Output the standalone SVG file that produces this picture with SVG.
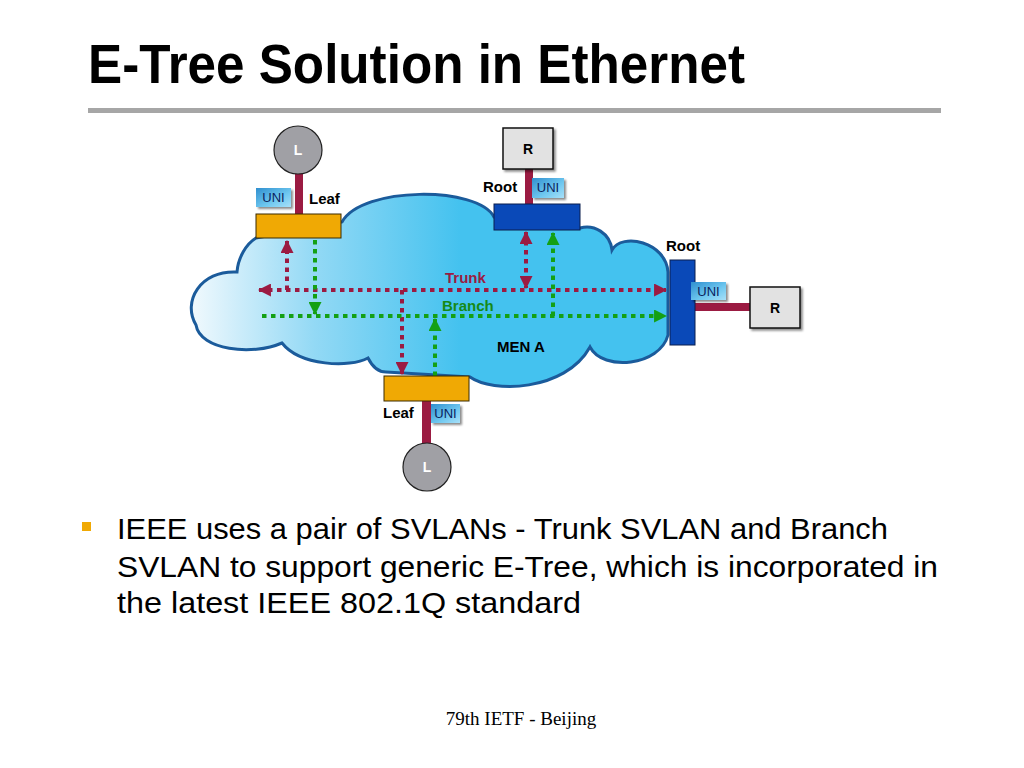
<svg xmlns="http://www.w3.org/2000/svg" width="1024" height="768" viewBox="0 0 1024 768">
<defs>
<linearGradient id="cloudGrad" x1="195" y1="0" x2="460" y2="0" gradientUnits="userSpaceOnUse">
<stop offset="0" stop-color="#eef8fd"/>
<stop offset="0.45" stop-color="#93d9f5"/>
<stop offset="1" stop-color="#44c2ef"/>
</linearGradient>
<linearGradient id="uniGrad" x1="0" y1="0" x2="1" y2="1">
<stop offset="0" stop-color="#2f8fcf"/>
<stop offset="0.6" stop-color="#6fc8f0"/>
<stop offset="1" stop-color="#a8e0f8"/>
</linearGradient>
<filter id="shadow" x="-20%" y="-20%" width="150%" height="160%">
<feDropShadow dx="2" dy="2" stdDeviation="1.2" flood-color="#000" flood-opacity="0.45"/>
</filter>
<marker id="arrT" viewBox="0 0 12 12" refX="11" refY="6" markerWidth="13" markerHeight="13" markerUnits="userSpaceOnUse" orient="auto-start-reverse">
<path d="M0,0 L12,6 L0,12 Z" fill="#9b1b42"/>
</marker>
<marker id="arrB" viewBox="0 0 12 12" refX="11" refY="6" markerWidth="13" markerHeight="13" markerUnits="userSpaceOnUse" orient="auto-start-reverse">
<path d="M0,0 L12,6 L0,12 Z" fill="#14a014"/>
</marker>
</defs>
<style>
.title{font-family:"Liberation Sans",Arial,sans-serif;font-weight:bold;font-size:56px;fill:#000}
.lbl{font-family:"Liberation Sans",Arial,sans-serif;font-weight:bold;font-size:15px;fill:#000}
.uni{font-family:"Liberation Sans",Arial,sans-serif;font-size:13px;fill:#0b1e5c}
.uniBox{fill:url(#uniGrad);filter:url(#shadow)}
.stem{fill:#9b1b42}
.leafBox{fill:#f0a904;stroke:#3a2a00;stroke-width:1}
.rootBox{fill:#0a49b8;stroke:#0a1f4f;stroke-width:1}
.rBox{fill:#e2e2e2;stroke:#111;stroke-width:1.5;filter:url(#shadow)}
.circ{fill:#a0a0a5;stroke:#222;stroke-width:1.2}
.cl{font-family:"Liberation Sans",Arial,sans-serif;font-weight:bold;font-size:14px;fill:#fff}
.rl{font-family:"Liberation Sans",Arial,sans-serif;font-weight:bold;font-size:14px;fill:#000}
.trunk{stroke:#9b1b42;stroke-width:4;stroke-dasharray:4.5 4.5;fill:none}
.branch{stroke:#14a014;stroke-width:4;stroke-dasharray:4.5 4.5;fill:none}
.body{font-family:"Liberation Sans",Arial,sans-serif;font-size:29px;fill:#000}
</style>
<rect width="1024" height="768" fill="#fff"/>
<text class="title" x="88" y="83" textLength="657" lengthAdjust="spacingAndGlyphs">E-Tree Solution in Ethernet</text>
<rect x="88" y="108" width="853" height="5" fill="#a6a6a6"/>
<g id="cloud">
<path d="M237,272 C200,270 182,302 196,325 C200,350 252,356 282,343 C300,366 350,368 368,358 C373,368 380,372 386,372 L470,377 C492,393 565,392 590,347 C603,372 660,366 668,335 L668,272 C666,242 622,232 612,250 C610,233 594,224 580,228 L494,217 C478,186 362,186 342,222 L256,238 C246,244 238,258 237,272 Z" fill="url(#cloudGrad)" stroke="#1b5b9b" stroke-width="3"/>
<text class="lbl" x="497" y="352" font-size="13">MEN A</text>
</g>
<g id="connectors">
<line class="trunk" x1="259" y1="290" x2="666" y2="290" marker-start="url(#arrT)" marker-end="url(#arrT)"/>
<line class="trunk" x1="287" y1="290" x2="287" y2="241" marker-end="url(#arrT)"/>
<line class="trunk" x1="402" y1="290" x2="402" y2="374" marker-end="url(#arrT)"/>
<line class="trunk" x1="526" y1="232" x2="526" y2="288" marker-start="url(#arrT)" marker-end="url(#arrT)"/>
<line class="branch" x1="262" y1="316" x2="666" y2="316" marker-end="url(#arrB)"/>
<line class="branch" x1="315" y1="240" x2="315" y2="314" marker-end="url(#arrB)"/>
<line class="branch" x1="435" y1="376" x2="435" y2="319" marker-end="url(#arrB)"/>
<line class="branch" x1="553" y1="316" x2="553" y2="233" marker-end="url(#arrB)"/>
<text x="445" y="283" font-family="Liberation Sans, Arial, sans-serif" font-weight="bold" font-size="15" fill="#9b1b42">Trunk</text>
<text x="442" y="311" font-family="Liberation Sans, Arial, sans-serif" font-weight="bold" font-size="15" fill="#168a16">Branch</text>
</g>
<g id="leaf-top">
<rect class="stem" x="295" y="170" width="8" height="44"/>
<circle class="circ" cx="298" cy="150" r="24"/>
<text class="cl" x="298" y="155" text-anchor="middle">L</text>
<rect class="leafBox" x="256" y="214" width="85" height="24"/>
<rect class="uniBox" x="256" y="188" width="35" height="19"/>
<text class="uni" x="273.5" y="202" text-anchor="middle">UNI</text>
<text class="lbl" x="309" y="204">Leaf</text>
</g>
<g id="root-top">
<rect class="stem" x="525" y="168" width="8" height="37"/>
<rect class="rBox" x="503" y="128" width="50" height="41"/>
<text class="rl" x="528" y="154" text-anchor="middle">R</text>
<rect class="rootBox" x="494" y="204" width="86" height="26"/>
<rect class="uniBox" x="532" y="178" width="32" height="20"/>
<text class="uni" x="548" y="192" text-anchor="middle">UNI</text>
<text class="lbl" x="483" y="192">Root</text>
</g>
<g id="root-right">
<rect class="stem" x="694" y="303" width="58" height="8"/>
<rect class="rBox" x="750" y="287" width="50" height="41"/>
<text class="rl" x="775" y="313" text-anchor="middle">R</text>
<rect class="rootBox" x="670" y="260" width="25" height="85"/>
<rect class="uniBox" x="691" y="282" width="35" height="18"/>
<text class="uni" x="708.5" y="296" text-anchor="middle">UNI</text>
<text class="lbl" x="666" y="251">Root</text>
</g>
<g id="leaf-bottom">
<rect class="stem" x="422" y="400" width="9" height="46"/>
<circle class="circ" cx="427" cy="467" r="24"/>
<text class="cl" x="427" y="472" text-anchor="middle">L</text>
<rect class="leafBox" x="384" y="376" width="85" height="25"/>
<rect class="uniBox" x="431" y="404" width="29" height="19"/>
<text class="uni" x="445.5" y="418" text-anchor="middle">UNI</text>
<text class="lbl" x="383" y="418">Leaf</text>
</g>
<rect x="82" y="522" width="9" height="9" fill="#f0a904"/>
<text class="body" x="117" y="539" textLength="771" lengthAdjust="spacingAndGlyphs">IEEE uses a pair of SVLANs - Trunk SVLAN and Branch</text>
<text class="body" x="117" y="577" textLength="821" lengthAdjust="spacingAndGlyphs">SVLAN to support generic E-Tree, which is incorporated in</text>
<text class="body" x="117" y="613" textLength="464" lengthAdjust="spacingAndGlyphs">the latest IEEE 802.1Q standard</text>
<text x="521" y="725" text-anchor="middle" font-family="Liberation Serif, Times New Roman, serif" font-size="19" fill="#000">79th IETF - Beijing</text>
</svg>
